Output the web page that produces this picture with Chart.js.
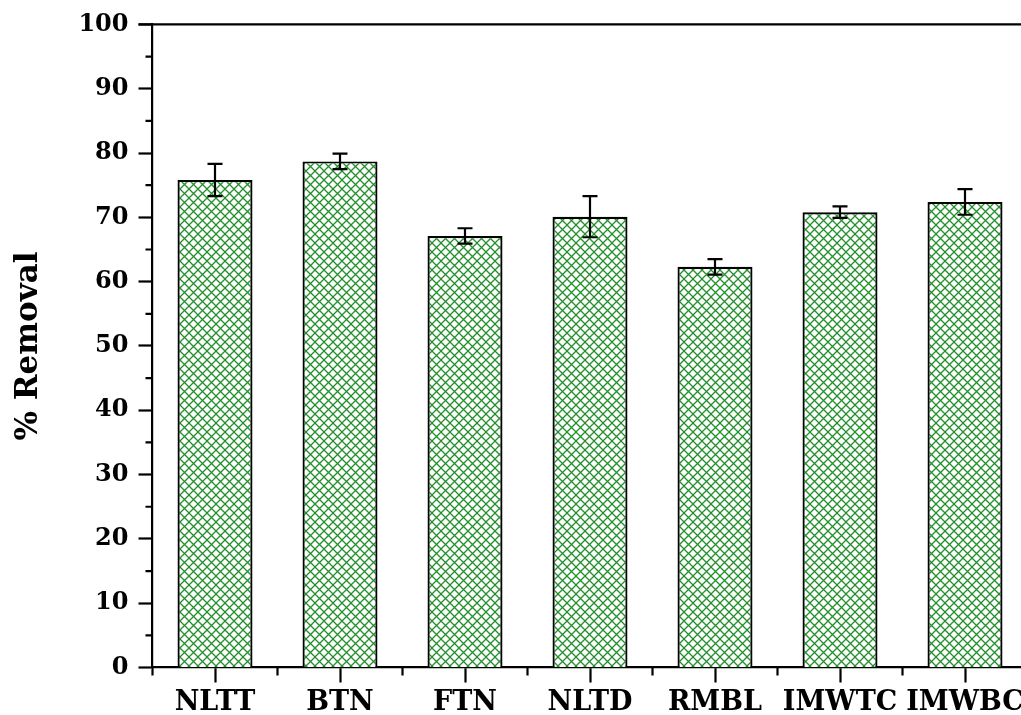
<!DOCTYPE html>
<html>
<head>
<meta charset="utf-8">
<script src="https://cdn.jsdelivr.net/npm/chart.js@4/dist/chart.umd.min.js"></script>
<style>
  html, body { margin: 0; padding: 0; background: #fff; overflow: hidden; }
  #wrap { width: 1040px; height: 715px; }
</style>
</head>
<body>
<div id="wrap"><canvas id="removalChart" width="1040" height="715"></canvas></div>
<script>
const categories = ['NLTT', 'BTN', 'FTN', 'NLTD', 'RMBL', 'IMWTC', 'IMWBC'];
const removal = [75.8, 78.7, 67.1, 70.1, 62.3, 70.8, 72.4];
const removalErr = [2.5, 1.2, 1.2, 3.2, 1.2, 0.9, 2.0];
const yMinorTicks = [5, 15, 25, 35, 45, 55, 65, 75, 85, 95];

// green cross-hatch fill for the bars
function makeHatch() {
    const s = 9;
    const c = document.createElement('canvas');
    c.width = s; c.height = s;
    const g = c.getContext('2d');
    g.fillStyle = '#fff';
    g.fillRect(0, 0, s, s);
    g.strokeStyle = '#22902a';
    g.lineWidth = 1.3;
    g.beginPath();
    g.moveTo(-1, -1); g.lineTo(s + 1, s + 1);
    g.moveTo(-1, s + 1); g.lineTo(s + 1, -1);
    g.stroke();
    return g.createPattern(c, 'repeat');
}

// minor ticks, top frame line and error bars
const extras = {
    id: 'extras',
    afterDatasetsDraw(chart) {
        const ctx = chart.ctx;
        const x = chart.scales.x, y = chart.scales.y;
        const area = chart.chartArea;
        ctx.save();
        ctx.strokeStyle = '#000';
        ctx.lineWidth = 2.2;

        // error bars
        const meta = chart.getDatasetMeta(0);
        meta.data.forEach((bar, i) => {
            const hi = y.getPixelForValue(removal[i] + removalErr[i]);
            const lo = y.getPixelForValue(removal[i] - removalErr[i]);
            ctx.beginPath();
            ctx.moveTo(bar.x, hi); ctx.lineTo(bar.x, lo);
            ctx.moveTo(bar.x - 7.5, hi); ctx.lineTo(bar.x + 7.5, hi);
            ctx.moveTo(bar.x - 7.5, lo); ctx.lineTo(bar.x + 7.5, lo);
            ctx.stroke();
        });

        ctx.beginPath();
        // y minor ticks
        yMinorTicks.forEach(v => {
            const py = y.getPixelForValue(v);
            ctx.moveTo(area.left - 7, py); ctx.lineTo(area.left, py);
        });
        // x minor ticks between categories
        for (let i = 0; i <= categories.length; i++) {
            const px = x.getPixelForValue(i - 0.5);
            ctx.moveTo(px, area.bottom); ctx.lineTo(px, area.bottom + 8);
        }
        // top frame line
        ctx.moveTo(area.left - 14, area.top); ctx.lineTo(chart.width, area.top);
        ctx.stroke();
        ctx.restore();
    }
};

const ctx = document.getElementById('removalChart').getContext('2d');
new Chart(ctx, {
    type: 'bar',
    data: {
        labels: categories,
        datasets: [{
            data: removal,
            backgroundColor: makeHatch(),
            borderColor: '#000',
            borderWidth: 2.2,
            borderSkipped: 'bottom',
            barPercentage: 0.6,
            categoryPercentage: 1
        }]
    },
    options: {
        responsive: false,
        animation: false,
        layout: { padding: { top: 23, right: 12.5, left: 0, bottom: 0 } },
        plugins: {
            legend: { display: false },
            tooltip: { enabled: false }
        },
        scales: {
            x: {
                offset: true,
                grid: { offset: false, drawOnChartArea: false, drawTicks: true, tickLength: 15, tickWidth: 2.2, tickColor: '#000' },
                border: { display: true, color: '#000', width: 2.2 },
                ticks: {
                    color: '#000',
                    padding: 4,
                    maxRotation: 0,
                    font: { family: 'DejaVu Serif', weight: 'bold', size: 27 }
                },
                afterFit(scale) { scale.height = 47.5; }
            },
            y: {
                min: 0,
                max: 100,
                grid: { drawOnChartArea: false, drawTicks: true, tickLength: 14, tickWidth: 2.2, tickColor: '#000' },
                border: { display: true, color: '#000', width: 2.2 },
                ticks: {
                    stepSize: 10,
                    color: '#000',
                    padding: 10,
                    font: { family: 'DejaVu Serif', weight: 'bold', size: 24 }
                },
                title: {
                    display: true,
                    text: '% Removal',
                    color: '#000',
                    padding: { top: 10, bottom: 0 },
                    font: { family: 'DejaVu Serif', weight: 'bold', size: 31 }
                },
                afterFit(scale) { scale.width = 152.5; }
            }
        }
    },
    plugins: [extras]
});
</script>
</body>
</html>
